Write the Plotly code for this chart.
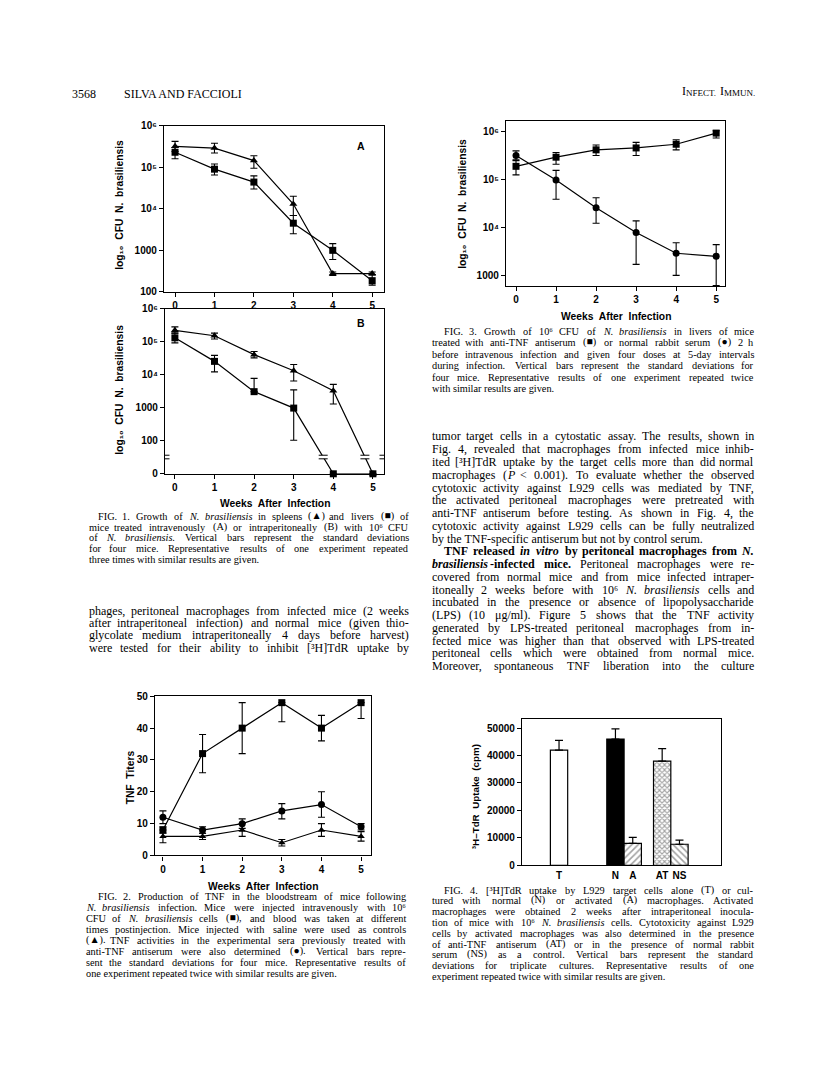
import re
import numpy as np
import plotly.graph_objects as go

PW, PH = 816, 1073

# ---------------- data ----------------
weeks = [0, 1, 2, 3, 4, 5]

# Fig. 1A  (intravenous) CFU
f1a_spleen = [3.2e5, 2.9e5, 1.45e5, 1.3e4, 275, 275]
f1a_spleen_hi = [4.2e5, 3.8e5, 1.9e5, 2.0e4, 300, 300]
f1a_spleen_lo = [2.4e5, 2.2e5, 9.5e4, 6.9e3, 250, 255]
f1a_liver = [2.3e5, 9.0e4, 4.4e4, 4.5e3, 1000, 186]
f1a_liver_hi = [3.0e5, 1.2e5, 6.2e4, 6.9e3, 1450, 260]
f1a_liver_lo = [1.6e5, 6.5e4, 3.0e4, 2.5e3, 600, 145]

# Fig. 1B  (intraperitoneal) CFU, 0 = none recovered
f1b_spleen = [2.2e5, 1.5e5, 4.0e4, 1.3e4, 3.2e3, 0]
f1b_spleen_hi = [2.8e5, 1.8e5, 5.0e4, 2.0e4, 5.0e3, 0]
f1b_spleen_lo = [1.8e5, 1.2e5, 3.2e4, 6.3e3, 1.26e3, 0]
f1b_liver = [1.3e5, 2.5e4, 3.0e3, 950, 0, 0]
f1b_liver_hi = [1.8e5, 3.8e4, 7.6e3, 3.4e3, 0, 0]
f1b_liver_lo = [9.1e4, 1.2e4, 3.0e3, 100, 0, 0]

# Fig. 2  TNF titers
tnf_infected = [8, 32, 40, 48, 40, 48]
tnf_infected_hi = [9, 38, 48, 48, 44, 48]
tnf_infected_lo = [7, 26, 32, 42, 36, 43]
tnf_anti = [12, 8, 10, 14, 16, 9]
tnf_anti_hi = [14, 9, 11.5, 16.3, 20, 10]
tnf_anti_lo = [10, 7, 8.5, 11.5, 12, 8]
tnf_saline = [6, 6, 8, 4, 8, 6]
tnf_saline_hi = [8, 7, 10, 5, 10, 7.5]
tnf_saline_lo = [4, 5, 6, 3, 6, 4.5]

# Fig. 3  CFU in livers
f3_antitnf = [1.9e5, 2.95e5, 4.2e5, 4.6e5, 5.5e5, 9.4e5]
f3_antitnf_hi = [2.6e5, 3.7e5, 5.3e5, 6.0e5, 6.8e5, 1.05e6]
f3_antitnf_lo = [1.26e5, 2.1e5, 3.2e5, 3.2e5, 4.2e5, 7.4e5]
f3_normal = [3.2e5, 9.8e4, 2.6e4, 7.9e3, 2.9e3, 2.5e3]
f3_normal_hi = [4.0e5, 1.56e5, 4.2e4, 1.38e4, 4.8e3, 4.4e3]
f3_normal_lo = [2.5e5, 3.9e4, 1.23e4, 1.7e3, 1.0e3, 610]

# Fig. 4  [3H]TdR uptake (cpm)
f4_cats = ["T", "N", "A", "AT", "NS"]
f4_uptake = [42000, 46000, 8000, 38000, 7700]
f4_sd = [3500, 3700, 2200, 4500, 1500]

log_ticks_1 = ["100", "1000", "10\u2074", "10\u2075", "10\u2076"]

# ---------------- helpers ----------------
fig = go.Figure()


def xdom(a, b):
    return [a / PW, b / PW]


def ydom(a, b):
    return [1 - b / PH, 1 - a / PH]


TICKFONT = dict(family="Liberation Sans", size=10, color="black", weight="bold")


def axis(dom, anchor, rng, **kw):
    d = dict(domain=dom, anchor=anchor, range=rng, showline=True, linecolor="black",
             linewidth=1.3, mirror=True, ticks="outside", ticklen=4, tickwidth=1.1,
             tickcolor="black", showgrid=False, zeroline=False, tickfont=TICKFONT,
             fixedrange=True)
    d.update(kw)
    return d


ZERO_LOG = 0.98   # display position of "0" on the broken axis of Fig. 1B
BREAK_LOG = 1.49  # position of the axis break


def tlog(v):
    return np.array([np.log10(x) if x > 0 else ZERO_LOG for x in v])


def series(x, y, lo, hi, symbol, size, xa, ya, logscale=True):
    if logscale:
        yv, lv, hv = tlog(y), tlog(lo), tlog(hi)
    else:
        yv, lv, hv = np.array(y, float), np.array(lo, float), np.array(hi, float)
    fig.add_trace(go.Scatter(
        x=x, y=yv, mode="lines+markers",
        line=dict(color="black", width=1.2),
        marker=dict(symbol=symbol, size=size, color="black"),
        error_y=dict(type="data", symmetric=False, array=hv - yv, arrayminus=yv - lv,
                     color="black", thickness=1.1, width=3.5),
        xaxis=xa, yaxis=ya, cliponaxis=False, showlegend=False, hoverinfo="skip"))


def minor_ticks(xa, ya, xv, lo, hi):
    for n in range(1, 7):
        for k in range(2, 10):
            y = n + np.log10(k)
            if lo < y < hi:
                fig.add_shape(type="line", xref=xa, yref=ya, xsizemode="pixel",
                              xanchor=xv, x0=0, x1=-2.5, y0=y, y1=y,
                              line=dict(color="black", width=0.8))


def break_mark(xa, ya, xv, yv, half=4.5):
    fig.add_shape(type="rect", xref=xa, yref=ya, xsizemode="pixel", ysizemode="pixel",
                  xanchor=xv, yanchor=yv, x0=-half, x1=half, y0=-1.8, y1=1.8,
                  fillcolor="white", line=dict(width=0), layer="above")
    for dy in (-1.8, 1.8):
        fig.add_shape(type="line", xref=xa, yref=ya, xsizemode="pixel", ysizemode="pixel",
                      xanchor=xv, yanchor=yv, x0=-half, x1=half, y0=dy, y1=dy,
                      line=dict(color="black", width=1), layer="above")


# ---------------- Fig 1A ----------------
series(weeks, f1a_spleen, f1a_spleen_lo, f1a_spleen_hi, "triangle-up", 7, "x", "y")
series(weeks, f1a_liver, f1a_liver_lo, f1a_liver_hi, "square", 7, "x", "y")
# ---------------- Fig 1B ----------------
series(weeks, f1b_spleen, f1b_spleen_lo, f1b_spleen_hi, "triangle-up", 7, "x2", "y2")
series(weeks, f1b_liver, f1b_liver_lo, f1b_liver_hi, "square", 7, "x2", "y2")
# ---------------- Fig 3 ----------------
series(weeks, f3_antitnf, f3_antitnf_lo, f3_antitnf_hi, "square", 7, "x3", "y3")
series(weeks, f3_normal, f3_normal_lo, f3_normal_hi, "circle", 7, "x3", "y3")
# ---------------- Fig 2 ----------------
series(weeks, tnf_infected, tnf_infected_lo, tnf_infected_hi, "square", 7, "x4", "y4", False)
series(weeks, tnf_anti, tnf_anti_lo, tnf_anti_hi, "circle", 7, "x4", "y4", False)
series(weeks, tnf_saline, tnf_saline_lo, tnf_saline_hi, "triangle-up", 6.5, "x4", "y4", False)

# ---------------- Fig 4 ----------------
bar_pos = [2.14, 5.4, 6.4, 8.1, 9.1]
fig.add_trace(go.Bar(
    x=bar_pos, y=f4_uptake, width=1.0,
    marker=dict(color=["white", "black", "white", "white", "white"],
                line=dict(color="black", width=1.2),
                pattern=dict(shape=["", "", "/", "x", "\\"], fgcolor="black",
                             bgcolor="white", size=[4.5, 4.5, 4.5, 3.6, 4.5],
                             solidity=[0.3, 0.3, 0.35, 0.5, 0.35])),
    error_y=dict(type="data", symmetric=False, array=f4_sd, arrayminus=[0] * 5,
                 color="black", thickness=1.2, width=4),
    xaxis="x5", yaxis="y5", showlegend=False, hoverinfo="skip"))

# minor ticks and breaks
minor_ticks("x", "y", -0.28, 2, 6)
minor_ticks("x2", "y2", -0.25, 2, 6)
minor_ticks("x3", "y3", -0.25, 2.78, 6.23)
break_mark("x2", "y2", -0.25, BREAK_LOG)
break_mark("x2", "y2", 5.28, BREAK_LOG)
for ser in (f1b_spleen, f1b_liver):
    lv = tlog(ser)
    for i in range(len(ser) - 1):
        if ser[i] > 0 and ser[i + 1] == 0:
            frac = (lv[i] - BREAK_LOG) / (lv[i] - lv[i + 1])
            break_mark("x2", "y2", weeks[i] + frac * (weeks[i + 1] - weeks[i]), BREAK_LOG)

fig.update_layout(
    width=PW, height=PH, margin=dict(l=0, r=0, t=0, b=0),
    paper_bgcolor="white", plot_bgcolor="white", showlegend=False,
    xaxis=axis(xdom(156, 376), "y", [-0.28, 5.3], tickvals=weeks),
    yaxis=axis(ydom(113, 281), "x", [2, 6], tickvals=[2, 3, 4, 5, 6], ticktext=log_ticks_1),
    xaxis2=axis(xdom(157, 376), "y2", [-0.25, 5.28], tickvals=weeks),
    yaxis2=axis(ydom(298, 465), "x2", [ZERO_LOG, 6], tickvals=[ZERO_LOG, 2, 3, 4, 5, 6],
                ticktext=["0"] + log_ticks_1),
    xaxis3=axis(xdom(498, 717), "y3", [-0.25, 5.22], tickvals=weeks),
    yaxis3=axis(ydom(108, 275), "x3", [2.78, 6.23], tickvals=[3, 4, 5, 6],
                ticktext=log_ticks_1[1:]),
    xaxis4=axis(xdom(147, 363), "y4", [-0.2, 5.25], tickvals=weeks),
    yaxis4=axis(ydom(690, 851), "x4", [0, 50], tickvals=[0, 10, 20, 30, 40, 50]),
    xaxis5=axis(xdom(514, 713), "y5", [0, 11.5], tickvals=bar_pos, ticktext=f4_cats,
                ticks="", mirror=True),
    yaxis5=axis(ydom(713, 861), "x5", [0, 53300], tickvals=[0, 10000, 20000, 30000, 40000, 50000],
                ticktext=["0", "10000", "20000", "30000", "40000", "50000"]),
)

# ---------------- chart labels ----------------
SANS = "Liberation Sans"


def label(px, py, text, size=10.3, angle=0, anchor="center"):
    fig.add_annotation(x=px / PW, y=1 - py / PH, xref="paper", yref="paper", text=text,
                       showarrow=False, textangle=angle, xanchor=anchor, yanchor="middle",
                       borderpad=0,
                       font=dict(family=SANS, size=size, color="black", weight="bold"))


WAI = "Weeks  After  Infection"
YCFU = "log\u2081\u2080  CFU  N.  brasiliensis"
label(353, 133, "A", 10.5)
label(353, 313, "B", 10.5)
label(267, 495, WAI)
label(608, 306, WAI)
label(255, 882, WAI)
label(112, 193, YCFU, 10.3, -90)
label(112, 380, YCFU, 10.3, -90)
label(455, 192, YCFU, 10.3, -90)
label(122, 772, "TNF  Titers", 10.3, -90)
label(467, 792, "\u00b3H\u2013TdR  Uptake  (cpm)", 9.8, -90)

# ---------------- page text ----------------
SUPMAP = str.maketrans("0123456789", "\u2070\u00b9\u00b2\u00b3\u2074\u2075\u2076\u2077\u2078\u2079")

_CW = {}
for chars, w in [(" ,.", 250), ("!()-[]`'", 333), ("\"", 408), ("#$*0123456789_", 500),
                 ("%", 833), ("&", 778), ("/:;\\ijlt", 278), ("+<=>", 564), ("?", 444),
                 ("@", 921), ("ADGHKNOQUVXY", 722), ("BCR", 667), ("ELTZ", 611),
                 ("FPS", 556), ("I", 333), ("J", 389), ("M", 889), ("W", 944),
                 ("acez", 444), ("bdghknopquvxy", 500), ("fr", 333), ("m", 778),
                 ("s", 389), ("w", 722), ("\u03bc", 500), ("\u25b2\u25a0\u25cf", 770),
                 ("^", 469), ("\u2070\u00b9\u00b2\u00b3\u2074\u2075\u2076\u2077\u2078\u2079", 310)]:
    for ch in chars:
        _CW[ch] = w


def parse(line):
    line = re.sub(r"<sup>(.*?)</sup>", lambda m: m.group(1).translate(SUPMAP), line)
    line = line.replace("&lt;", "<\x00")
    chars = []
    b = i = False
    k = 0
    tags = {"<b>": ("b", True), "</b>": ("b", False), "<i>": ("i", True), "</i>": ("i", False)}
    while k < len(line):
        hit = False
        for t, (kind, val) in tags.items():
            if line.startswith(t, k):
                if kind == "b":
                    b = val
                else:
                    i = val
                k += len(t)
                hit = True
                break
        if hit:
            continue
        if line.startswith("<\x00", k):
            chars.append(("<", b, i))
            k += 2
            continue
        chars.append((line[k], b, i))
        k += 1
    words, cur = [], []
    for c in chars:
        if c[0] == " ":
            if cur:
                words.append(cur)
                cur = []
        else:
            cur.append(c)
    if cur:
        words.append(cur)
    return words


def runs_of(word):
    runs = []
    for ch, b, i in word:
        # trailing punctuation takes the style of the run before it
        if runs and (runs[-1][0] == (b, i) or ch in ".,;:"):
            runs[-1][1] += ch
        else:
            runs.append([(b, i), ch])
    return runs


def run_width(txt, b, size):
    return sum(_CW.get(c, 500) for c in txt) * (1.07 if b else 1.0) * size / 1000


def word_width(word, size):
    return sum(run_width(t, b, size) for (b, i), t in runs_of(word))


def esc(s):
    return s.replace("&", "&amp;").replace("<", "&lt;").replace(">", "&gt;")


SERIF = "Liberation Serif"


def put(xx, ybot, text, xa, size, b=False, i=False):
    fig.add_annotation(x=xx / PW, y=1 - ybot / PH, xref="paper", yref="paper",
                       text=esc(text), showarrow=False, xanchor=xa,
                       yanchor="bottom", borderpad=0,
                       font=dict(family=SERIF, size=size, color="black",
                                 weight="bold" if b else "normal",
                                 style="italic" if i else "normal"))


def put_word(word, left, wd, anchor, ybot, size):
    runs = runs_of(word)
    if len(runs) == 1:
        (b, i), t = runs[0]
        xx = {"left": left, "center": left + wd / 2, "right": left + wd}[anchor]
        put(xx, ybot, t, anchor, size, b, i)
        return
    xp = left
    for (b, i), t in runs:
        put(xp, ybot, t, "left", size, b, i)
        xp += run_width(t, b, size)


def text_block(lines, x0, x1, y0, dy, size, indent, first_indent=True, last_ragged=True,
               ragged=()):
    n_lines = len(lines)
    for li, txt in enumerate(lines):
        y = y0 + li * dy
        words = parse(txt)
        ww = [word_width(w, size) for w in words]
        ind = indent if (li == 0 and first_indent) or (txt.startswith("<b>TNF")) else 0
        xs = x0 + ind
        n = len(words)
        just = not ((li == n_lines - 1 and last_ragged) or li in ragged)
        ybot = y + 0.23 * size + 0.216 * size
        plain = all(len(runs_of(w)) == 1 and runs_of(w)[0][0] == (False, False) for w in words)
        if not just and plain:
            put(xs, ybot, " ".join("".join(c[0] for c in w) for w in words), "left", size)
            continue
        gap = (x1 - xs - sum(ww)) / (n - 1) if (just and n > 1) else 0.25 * size
        xp = xs
        for k, (w, wd) in enumerate(zip(words, ww)):
            if k == 0:
                put_word(w, xp, wd, "left", ybot, size)
            elif k == n - 1 and just:
                put_word(w, x1 - wd, wd, "right", ybot, size)
            else:
                put_word(w, xp, wd, "center", ybot, size)
            xp += wd + gap


fig1_caption = [
    "FIG. 1. Growth of <i>N. brasiliensis</i> in spleens (\u25b2) and livers (\u25a0) of",
    "mice treated intravenously (A) or intraperitoneally (B) with 10<sup>6</sup> CFU",
    "of <i>N. brasiliensis</i>. Vertical bars represent the standard deviations",
    "for four mice. Representative results of one experiment repeated",
    "three times with similar results are given.",
]
left_body = [
    "phages, peritoneal macrophages from infected mice (2 weeks",
    "after intraperitoneal infection) and normal mice (given thio-",
    "glycolate medium intraperitoneally 4 days before harvest)",
    "were tested for their ability to inhibit [<sup>3</sup>H]TdR uptake by",
]
fig2_caption = [
    "FIG. 2. Production of TNF in the bloodstream of mice following",
    "<i>N. brasiliensis</i> infection. Mice were injected intravenously with 10<sup>6</sup>",
    "CFU of <i>N. brasiliensis</i> cells (\u25a0), and blood was taken at different",
    "times postinjection. Mice injected with saline were used as controls",
    "(\u25b2). TNF activities in the experimental sera previously treated with",
    "anti-TNF antiserum were also determined (\u25cf). Vertical bars repre-",
    "sent the standard deviations for four mice. Representative results of",
    "one experiment repeated twice with similar results are given.",
]
fig3_caption = [
    "FIG. 3. Growth of 10<sup>6</sup> CFU of <i>N. brasiliensis</i> in livers of mice",
    "treated with anti-TNF antiserum (\u25a0) or normal rabbit serum (\u25cf) 2 h",
    "before intravenous infection and given four doses at 5-day intervals",
    "during infection. Vertical bars represent the standard deviations for",
    "four mice. Representative results of one experiment repeated twice",
    "with similar results are given.",
]
right_body = [
    "tumor target cells in a cytostatic assay. The results, shown in",
    "Fig. 4, revealed that macrophages from infected mice inhib-",
    "ited [<sup>3</sup>H]TdR uptake by the target cells more than did normal",
    "macrophages (<i>P</i> &lt; 0.001). To evaluate whether the observed",
    "cytotoxic activity against L929 cells was mediated by TNF,",
    "the activated peritoneal macrophages were pretreated with",
    "anti-TNF antiserum before testing. As shown in Fig. 4, the",
    "cytotoxic activity against L929 cells can be fully neutralized",
    "by the TNF-specific antiserum but not by control serum.",
    "<b>TNF released <i>in vitro</i> by peritoneal macrophages from <i>N.</i></b>",
    "<b><i>brasiliensis</i>-infected mice.</b> Peritoneal macrophages were re-",
    "covered from normal mice and from mice infected intraper-",
    "itoneally 2 weeks before with 10<sup>6</sup> <i>N. brasiliensis</i> cells and",
    "incubated in the presence or absence of lipopolysaccharide",
    "(LPS) (10 \u03bcg/ml). Figure 5 shows that the TNF activity",
    "generated by LPS-treated peritoneal macrophages from in-",
    "fected mice was higher than that observed with LPS-treated",
    "peritoneal cells which were obtained from normal mice.",
    "Moreover, spontaneous TNF liberation into the culture",
]
fig4_caption = [
    "FIG. 4. [<sup>3</sup>H]TdR uptake by L929 target cells alone (T) or cul-",
    "tured with normal (N) or activated (A) macrophages. Activated",
    "macrophages were obtained 2 weeks after intraperitoneal inocula-",
    "tion of mice with 10<sup>6</sup> <i>N. brasiliensis</i> cells. Cytotoxicity against L929",
    "cells by activated macrophages was also determined in the presence",
    "of anti-TNF antiserum (AT) or in the presence of normal rabbit",
    "serum (NS) as a control. Vertical bars represent the standard",
    "deviations for triplicate cultures. Representative results of one",
    "experiment repeated twice with similar results are given.",
]

CAP = 10.3
BODY = 12.0
text_block(fig1_caption, 80, 402, 510, 10.8, CAP, 9)
text_block(left_body, 80, 402, 606, 12.5, BODY, 0, first_indent=False, last_ragged=False)
text_block(fig2_caption, 77, 399, 894, 11.2, CAP, 12)
text_block(fig3_caption, 423, 747, 323, 11.6, CAP, 12)
text_block(right_body, 423, 747, 430, 12.9, BODY, 12, first_indent=False, last_ragged=False,
           ragged=(8,))
text_block(fig4_caption, 423, 747, 888, 10.9, CAP, 12)

# running head
HEAD = 12
HEAD_Y = 81
fig.add_annotation(x=63 / PW, y=1 - HEAD_Y / PH, xref="paper", yref="paper", text="3568",
                   showarrow=False, xanchor="left", yanchor="middle", borderpad=0,
                   font=dict(family=SERIF, size=HEAD, color="black"))
fig.add_annotation(x=115 / PW, y=1 - HEAD_Y / PH, xref="paper", yref="paper",
                   text="SILVA AND FACCIOLI", showarrow=False, xanchor="left",
                   yanchor="middle", borderpad=0,
                   font=dict(family=SERIF, size=HEAD, color="black"))
# small-caps journal name, built from runs of two sizes sharing one baseline
SMALL = 9
head_runs = [("I", HEAD), ("NFECT.", SMALL), ("I", HEAD), ("MMUN.", SMALL)]
head_gap_after = {1: 0.25 * HEAD}
total = sum(run_width(t, False, s) for t, s in head_runs) + sum(head_gap_after.values())
xp = 746 - total
baseline = HEAD_Y + 0.45 * HEAD - 0.216 * HEAD
for k, (t, s) in enumerate(head_runs):
    fig.add_annotation(x=xp / PW, y=1 - (baseline + 0.216 * s) / PH, xref="paper",
                       yref="paper", text=t, showarrow=False, xanchor="left",
                       yanchor="bottom", borderpad=0,
                       font=dict(family=SERIF, size=s, color="black"))
    xp += run_width(t, False, s) + head_gap_after.get(k, 0)

fig.write_html("out.html")
